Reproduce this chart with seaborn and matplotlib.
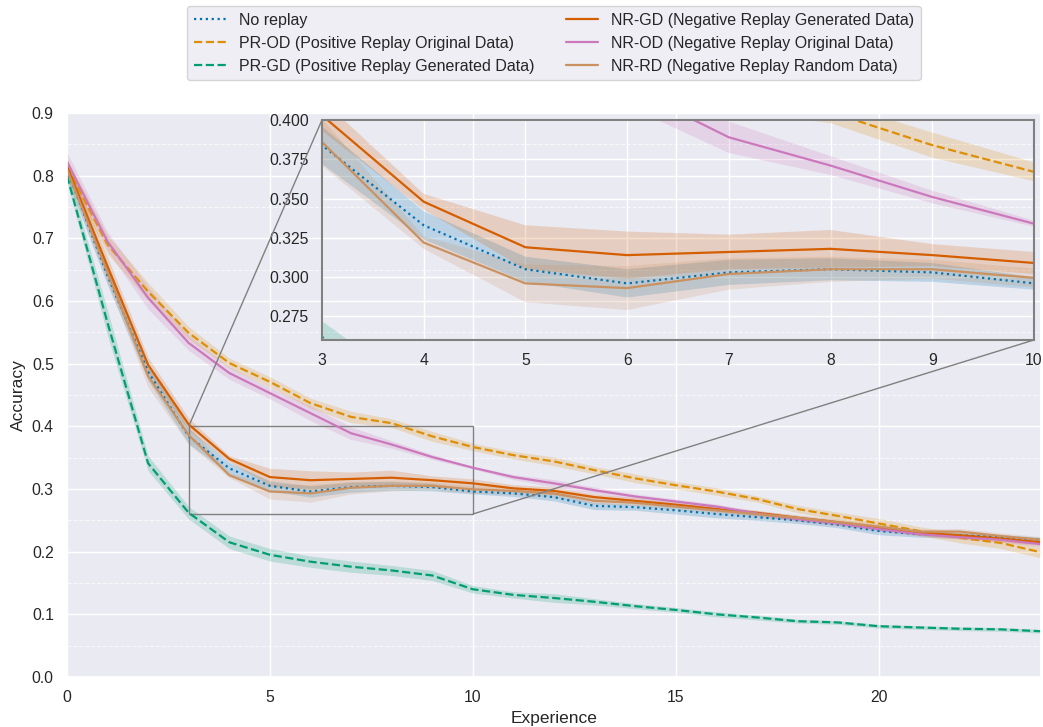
import numpy as np
import pandas as pd
import matplotlib
matplotlib.use("Agg")
import matplotlib.pyplot as plt
import seaborn as sns
from matplotlib.ticker import MultipleLocator, FormatStrFormatter
from mpl_toolkits.axes_grid1.inset_locator import mark_inset

# ---------------- data ----------------
experience = list(range(25))

no_replay = [0.810, 0.640, 0.487, 0.384, 0.333, 0.305, 0.296, 0.303, 0.305, 0.303,
             0.296, 0.293, 0.287, 0.273, 0.271, 0.266, 0.260, 0.255, 0.250, 0.243,
             0.233, 0.228, 0.226, 0.223, 0.219]
pr_od = [0.815, 0.690, 0.615, 0.549, 0.501, 0.471, 0.437, 0.415, 0.405, 0.384,
         0.367, 0.354, 0.344, 0.330, 0.317, 0.306, 0.296, 0.284, 0.268, 0.257,
         0.245, 0.233, 0.222, 0.214, 0.199]
pr_gd = [0.800, 0.565, 0.341, 0.262, 0.215, 0.195, 0.184, 0.176, 0.170, 0.162,
         0.140, 0.131, 0.126, 0.120, 0.113, 0.107, 0.100, 0.095, 0.089, 0.087,
         0.081, 0.079, 0.077, 0.076, 0.073]
nr_gd = [0.815, 0.655, 0.498, 0.403, 0.348, 0.319, 0.314, 0.316, 0.318, 0.314,
         0.309, 0.301, 0.297, 0.287, 0.281, 0.275, 0.268, 0.262, 0.254, 0.247,
         0.238, 0.230, 0.226, 0.221, 0.215]
nr_od = [0.822, 0.695, 0.605, 0.533, 0.485, 0.453, 0.421, 0.389, 0.371, 0.351,
         0.334, 0.319, 0.309, 0.298, 0.288, 0.280, 0.272, 0.261, 0.252, 0.245,
         0.236, 0.228, 0.223, 0.219, 0.212]
nr_rd = [0.810, 0.645, 0.480, 0.386, 0.322, 0.296, 0.293, 0.302, 0.305, 0.305,
         0.2995, 0.297, 0.293, 0.281, 0.278, 0.272, 0.266, 0.260, 0.254, 0.247,
         0.240, 0.232, 0.232, 0.225, 0.219]

# confidence-band half widths
no_replay_ci = [0.015, 0.015, 0.014, 0.012, 0.009, 0.008, 0.009, 0.008, 0.007, 0.006,
                0.004, 0.005, 0.006, 0.006, 0.005, 0.006, 0.006, 0.005, 0.005, 0.005,
                0.006, 0.005, 0.005, 0.004, 0.004]
pr_od_ci = [0.012, 0.015, 0.014, 0.010, 0.008, 0.008, 0.008, 0.009, 0.007, 0.008,
            0.006, 0.006, 0.007, 0.006, 0.007, 0.006, 0.006, 0.005, 0.006, 0.006,
            0.008, 0.007, 0.008, 0.009, 0.009]
pr_gd_ci = [0.010, 0.020, 0.012, 0.010, 0.010, 0.010, 0.009, 0.009, 0.008, 0.008,
            0.006, 0.005, 0.007, 0.005, 0.004, 0.004, 0.004, 0.004, 0.003, 0.003,
            0.003, 0.003, 0.003, 0.003, 0.003]
nr_gd_ci = [0.012, 0.015, 0.012, 0.010, 0.005, 0.014, 0.015, 0.011, 0.012, 0.007,
            0.007, 0.006, 0.006, 0.005, 0.005, 0.004, 0.004, 0.004, 0.004, 0.004,
            0.004, 0.004, 0.004, 0.005, 0.005]
nr_od_ci = [0.015, 0.015, 0.018, 0.012, 0.010, 0.009, 0.012, 0.010, 0.006, 0.004,
            0.002, 0.004, 0.006, 0.005, 0.004, 0.004, 0.004, 0.004, 0.004, 0.004,
            0.004, 0.003, 0.003, 0.004, 0.004]
nr_rd_ci = [0.015, 0.015, 0.018, 0.015, 0.004, 0.012, 0.014, 0.010, 0.008, 0.006,
            0.006, 0.006, 0.006, 0.005, 0.005, 0.005, 0.005, 0.005, 0.005, 0.005,
            0.005, 0.004, 0.005, 0.005, 0.005]

labels = ["No replay",
          "PR-OD (Positive Replay Original Data)",
          "PR-GD (Positive Replay Generated Data)",
          "NR-GD (Negative Replay Generated Data)",
          "NR-OD (Negative Replay Original Data)",
          "NR-RD (Negative Replay Random Data)"]

# ---------------- style ----------------
sns.set_theme(style="darkgrid")
plt.rcParams["font.family"] = ["Liberation Sans", "DejaVu Sans"]
pal = sns.color_palette("colorblind")
colors = [pal[0], pal[1], pal[2], pal[3], pal[4], pal[5]]
styles = [":", "--", "--", "-", "-", "-"]

series = [no_replay, pr_od, pr_gd, nr_gd, nr_od, nr_rd]
cis = [no_replay_ci, pr_od_ci, pr_gd_ci, nr_gd_ci, nr_od_ci, nr_rd_ci]

fig = plt.figure(figsize=(10.43, 7.27), dpi=100)
ax = fig.add_axes([0.0642, 0.0688, 0.9338, 0.7758])
axins = fig.add_axes([0.3087, 0.5324, 0.6827, 0.3025])


def draw(a, with_label):
    for vals, ci, lab, c, ls in zip(series, cis, labels, colors, styles):
        df = pd.DataFrame({"Experience": experience, "Accuracy": vals})
        v = np.array(vals)
        e = np.array(ci)
        a.fill_between(experience, v - e, v + e, color=c, alpha=0.2, linewidth=0)
        sns.lineplot(data=df, x="Experience", y="Accuracy", ax=a, color=c,
                     linestyle=ls, linewidth=1.6,
                     label=lab if with_label else None, legend=False)


draw(ax, True)
draw(axins, False)

ax.set_xlim(0, 24)
ax.set_ylim(0, 0.9)
ax.xaxis.set_major_locator(MultipleLocator(5))
ax.yaxis.set_major_locator(MultipleLocator(0.1))
ax.yaxis.set_minor_locator(MultipleLocator(0.05))
ax.grid(which="minor", axis="y", color="white", linestyle="--", linewidth=0.8, alpha=0.7)
ax.set_xlabel("Experience", fontsize=12.5)
ax.set_ylabel("Accuracy", fontsize=12.5)
ax.tick_params(labelsize=11.3)

axins.set_xlim(3, 10)
axins.set_ylim(0.26, 0.40)
axins.yaxis.set_major_locator(MultipleLocator(0.025))
axins.yaxis.set_major_formatter(FormatStrFormatter("%.3f"))
axins.xaxis.set_major_locator(MultipleLocator(1))
axins.set_xlabel("")
axins.set_ylabel("")
axins.tick_params(labelsize=11.3)
axins.patch.set_alpha(0)
for sp in axins.spines.values():
    sp.set_visible(True)
    sp.set_color("0.5")
    sp.set_linewidth(1.5)

mark_inset(ax, axins, loc1=2, loc2=4, fc="none", ec="0.5", lw=1.0)

handles, labs = ax.get_legend_handles_labels()
ax.legend(handles, labs, loc="lower center", bbox_to_anchor=(0.5, 1.044),
          ncol=2, fontsize=11.55, frameon=True, columnspacing=2.0)

fig.savefig("out.png", dpi=100)
